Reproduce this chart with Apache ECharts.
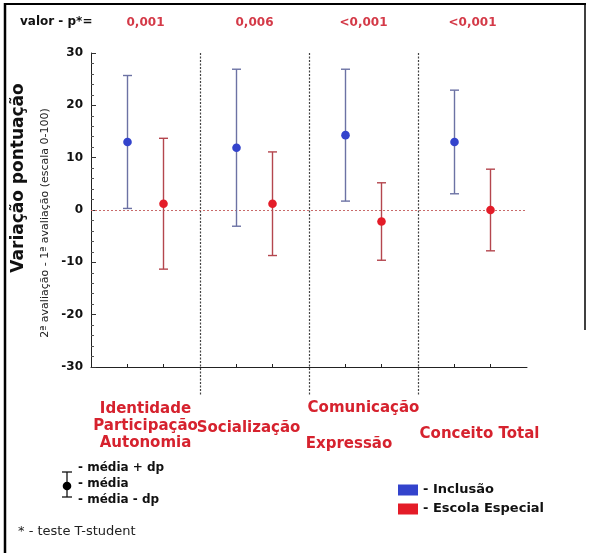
<!DOCTYPE html>
<html>
<head>
<meta charset="utf-8">
<script src="https://cdn.jsdelivr.net/npm/echarts@6/dist/echarts.min.js"></script>
<style>
  html, body { margin: 0; padding: 0; background: #fff; }
  #chart { width: 590px; height: 553px; }
</style>
</head>
<body>
<div id="chart"></div>
<script>
// dados
const categories = ['Identidade\nParticipação\nAutonomia', 'Socialização', 'Comunicação\n\nExpressão', 'Conceito Total'];
const pValues = ['0,001', '0,006', '<0,001', '<0,001'];
const seriesNames = ['Inclusão', 'Escola Especial'];

const inclusaoMedia = [13.0, 11.9, 14.3, 13.0];
const inclusaoDp = [12.7, 15.0, 12.6, 9.9];
const especialMedia = [1.2, 1.2, -2.2, 0.0];
const especialDp = [12.5, 9.9, 7.4, 7.8];

const yMin = -30, yMax = 30, yStep = 10;

const FONT = '"DejaVu Sans", sans-serif';
const RED = '#d6222e';

const chart = echarts.init(document.getElementById('chart'));

// barra de erro: média ± dp, deslocada dentro da categoria
function errorBarSeries(name, means, sds, shift, lineColor, dotColor) {
  return {
    name: name,
    type: 'custom',
    clip: false,
    z: 5,
    itemStyle: { color: dotColor },
    encode: { x: 0, y: 1 },
    data: means.map((m, i) => [i, m, sds[i]]),
    renderItem(params, api) {
      const i = api.value(0), m = api.value(1), sd = api.value(2);
      const hi = api.coord([i, m + sd]);
      const lo = api.coord([i, m - sd]);
      const mid = api.coord([i, m]);
      const axisY = api.coord([i, yMin])[1];
      const x = mid[0] + shift;
      const cap = 4.5;
      const ls = { stroke: lineColor, lineWidth: 1.4 };
      return {
        type: 'group',
        children: [
          { type: 'line', shape: { x1: x, y1: hi[1], x2: x, y2: lo[1] }, style: ls },
          { type: 'line', shape: { x1: x - cap, y1: hi[1], x2: x + cap, y2: hi[1] }, style: ls },
          { type: 'line', shape: { x1: x - cap, y1: lo[1], x2: x + cap, y2: lo[1] }, style: ls },
          { type: 'line', shape: { x1: x, y1: axisY, x2: x, y2: axisY - 3 }, style: { stroke: '#222', lineWidth: 1 } },
          { type: 'circle', shape: { cx: x, cy: mid[1], r: 4.3 }, style: { fill: dotColor } }
        ]
      };
    }
  };
}

// linhas pontilhadas entre categorias (descem abaixo do eixo)
const dividerSeries = {
  type: 'custom',
  silent: true,
  clip: false,
  encode: { x: 0, y: 1 },
  data: categories.slice(1).map((c, i) => [i, yMax]),
  renderItem(params, api) {
    const i = api.value(0);
    const a = api.coord([i, yMax]);
    const b = api.coord([i + 1, yMax]);
    const x = Math.round((a[0] + b[0]) / 2) + 0.5;
    const yBot = api.coord([i, yMin])[1] + 28;
    return {
      type: 'line',
      shape: { x1: x, y1: a[1], x2: x, y2: yBot },
      style: { stroke: '#444', lineWidth: 1.2, lineDash: [2, 1.5] }
    };
  },
  markLine: {
    silent: true,
    symbol: 'none',
    label: { show: false },
    lineStyle: { type: [2, 2], color: '#c86a6a', width: 1 },
    data: [{ yAxis: 0 }]
  }
};

const labelTokens = [['a', 'a', 'a'], ['s'], ['c', '', 'e'], ['t']];

const option = {
  animation: false,
  backgroundColor: '#fff',
  grid: { left: 91, right: 63, top: 53, bottom: 186 },
  legend: {
    data: seriesNames,
    orient: 'vertical',
    left: 393,
    top: 478,
    icon: 'rect',
    itemWidth: 20,
    itemHeight: 11,
    itemGap: 5,
    selectedMode: false,
    formatter: n => '- ' + n,
    textStyle: { fontFamily: FONT, fontWeight: 'bold', fontSize: 13, color: '#111', lineHeight: 14 }
  },
  xAxis: [
    {
      type: 'category',
      data: categories,
      boundaryGap: true,
      axisLine: { onZero: false, lineStyle: { color: '#222', width: 1 } },
      axisTick: { show: false },
      axisLabel: {
        interval: 0,
        margin: 59,
        verticalAlign: 'middle',
        color: RED,
        fontFamily: FONT,
        fontWeight: 'bold',
        fontSize: 15,
        lineHeight: 18,
        formatter: (v, idx) => v.split('\n').map((line, k) =>
          line ? '{' + labelTokens[idx][k] + '|' + line + '}' : '').join('\n'),
        rich: {
          a: { lineHeight: 17 },
          s: { padding: [4, 12, 0, 0] },
          c: { lineHeight: 18, padding: [0, 0, 0, 0] },
          e: { lineHeight: 18, padding: [0, 29, 0, 0] },
          t: { padding: [16, 0, 0, 14] }
        }
      },
      splitLine: { show: false }
    },
    {
      type: 'category',
      position: 'top',
      data: pValues,
      offset: 24,
      axisLine: { show: false },
      axisTick: { show: false },
      axisLabel: {
        interval: 0,
        margin: 0,
        color: '#d43a48',
        fontFamily: FONT,
        fontWeight: 'bold',
        fontSize: 12
      }
    }
  ],
  yAxis: {
    type: 'value',
    min: yMin,
    max: yMax,
    interval: yStep,
    axisLine: { show: true, lineStyle: { color: '#222', width: 1 } },
    axisTick: { show: true, inside: true, length: 5, lineStyle: { color: '#333' } },
    minorTick: { show: true, splitNumber: 5, length: 3, lineStyle: { color: '#555' } },
    splitLine: { show: false },
    axisLabel: {
      margin: 8,
      color: '#111',
      fontFamily: FONT,
      fontWeight: 'bold',
      fontSize: 12
    }
  },
  graphic: [
    // moldura
    { type: 'line', shape: { x1: 5, y1: 3, x2: 5, y2: 553 }, style: { stroke: '#000', lineWidth: 2.5 } },
    { type: 'line', shape: { x1: 4, y1: 4, x2: 586, y2: 4 }, style: { stroke: '#000', lineWidth: 2 } },
    { type: 'line', shape: { x1: 585, y1: 4, x2: 585, y2: 330 }, style: { stroke: '#000', lineWidth: 1.5 } },
    {
      type: 'text', left: 20, top: 16,
      style: { text: 'valor - p*=', font: 'bold 12px ' + FONT, fill: '#111' }
    },
    {
      type: 'text', x: 19, y: 178, rotation: Math.PI / 2,
      style: {
        text: 'Variação pontuação', font: 'bold 17px ' + FONT, fill: '#111',
        textAlign: 'center', textVerticalAlign: 'middle', align: 'center', verticalAlign: 'middle'
      }
    },
    {
      type: 'text', x: 45, y: 223, rotation: Math.PI / 2,
      style: {
        text: '2ª avaliação - 1ª avaliação (escala 0-100)', font: '11px ' + FONT, fill: '#222',
        textAlign: 'center', textVerticalAlign: 'middle', align: 'center', verticalAlign: 'middle'
      }
    },
    // chave: média ± dp
    { type: 'line', shape: { x1: 67, y1: 472, x2: 67, y2: 497 }, style: { stroke: '#111', lineWidth: 1.3 } },
    { type: 'line', shape: { x1: 62, y1: 472, x2: 72, y2: 472 }, style: { stroke: '#111', lineWidth: 1.3 } },
    { type: 'line', shape: { x1: 62, y1: 497, x2: 72, y2: 497 }, style: { stroke: '#111', lineWidth: 1.3 } },
    { type: 'circle', shape: { cx: 67, cy: 486, r: 4.3 }, style: { fill: '#000' } },
    {
      type: 'text', left: 78, top: 462,
      style: { text: '- média + dp', font: 'bold 12px ' + FONT, fill: '#111' }
    },
    {
      type: 'text', left: 78, top: 478,
      style: { text: '- média', font: 'bold 12px ' + FONT, fill: '#111' }
    },
    {
      type: 'text', left: 78, top: 494,
      style: { text: '- média - dp', font: 'bold 12px ' + FONT, fill: '#111' }
    },
    {
      type: 'text', left: 18, top: 525,
      style: { text: '* - teste T-student', font: '13px ' + FONT, fill: '#222' }
    }
  ],
  series: [
    errorBarSeries(seriesNames[0], inclusaoMedia, inclusaoDp, -18, '#6c72a4', '#3343cc'),
    errorBarSeries(seriesNames[1], especialMedia, especialDp, 18, '#b4464e', '#e41c28'),
    dividerSeries
  ]
};

chart.setOption(option);
</script>
</body>
</html>
